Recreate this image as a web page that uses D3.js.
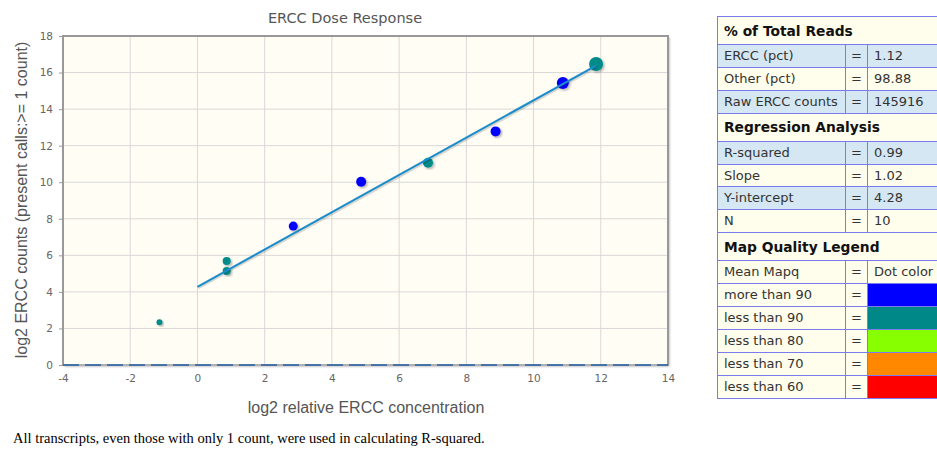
<!DOCTYPE html>
<html><head><meta charset="utf-8">
<script src="https://d3js.org/d3.v7.min.js"></script>
<style>
body{margin:0;background:#fff;width:937px;height:450px;overflow:hidden;position:relative;}
#tbl{position:absolute;left:717px;top:16px;width:300px;border-collapse:collapse;table-layout:fixed;font-family:"DejaVu Sans",sans-serif;font-size:13px;color:#333;}
#tbl td{border:1.5px solid #7b7bf0;padding:0 0 0 6px;height:21.9px;line-height:20px;white-space:nowrap;overflow:hidden;}
#tbl td.h{font-weight:bold;font-size:13.8px;color:#111;height:27px;background:#fffdeb;}
#note{position:absolute;left:13px;top:430px;font-family:"Liberation Serif",serif;font-size:14.5px;color:#000;}
</style></head><body>
<svg id="c" width="710" height="425" style="position:absolute;left:0;top:0"></svg>
<table id="tbl"></table>
<div id="note">All transcripts, even those with only 1 count, were used in calculating R-squared.</div>
<script>
const xVals = [-1.13, 0.87, 0.87, 2.85, 4.87, 6.86, 8.87, 10.87, 11.86];
const yVals = [2.34, 5.69, 5.14, 7.6, 10.03, 11.07, 12.78, 15.43, 16.47];
const dotColors = ["#008b8b","#008b8b","#008b8b","#0000ff","#0000ff","#008b8b","#0000ff","#0000ff","#008b8b"];
const dotSizes = [3, 4, 4, 4.5, 5, 5, 5, 6, 7];
const slope = 1.02, intercept = 4.28, fitX = [0, 11.86];
const xTicks = [-4,-2,0,2,4,6,8,10,12,14];
const yTicks = [0,2,4,6,8,10,12,14,16,18];

const readsRows = [["ERCC (pct)","1.12"],["Other (pct)","98.88"],["Raw ERCC counts","145916"]];
const regRows = [["R-squared","0.99"],["Slope","1.02"],["Y-intercept","4.28"],["N","10"]];
const legendLabels = ["more than 90","less than 90","less than 80","less than 70","less than 60"];
const legendColors = ["#0000ff","#008888","#88ff00","#ff8800","#ff0000"];

const L=63,R=668,T=36,B=365;
const svg=d3.select("#c");
const x=d3.scaleLinear().domain([-4,14]).range([L,R]);
const y=d3.scaleLinear().domain([0,18]).range([B,T]);
const defs=svg.append("defs");
const f=defs.append("filter").attr("id","sh").attr("x","-20%").attr("y","-20%").attr("width","140%").attr("height","140%");
f.append("feDropShadow").attr("dx",1.5).attr("dy",1.5).attr("stdDeviation",1).attr("flood-color","#000").attr("flood-opacity",0.3);

svg.append("rect").attr("x",L).attr("y",T).attr("width",R-L).attr("height",B-T).attr("fill","#fffdf4").attr("filter","url(#sh)");
svg.append("g").selectAll("line").data(xTicks).join("line")
 .attr("x1",d=>x(d)).attr("x2",d=>x(d)).attr("y1",T).attr("y2",B).attr("stroke","#d8d8d8").attr("stroke-width",1);
svg.append("g").selectAll("line").data(yTicks).join("line")
 .attr("y1",d=>y(d)).attr("y2",d=>y(d)).attr("x1",L).attr("x2",R).attr("stroke","#d8d8d8").attr("stroke-width",1);
svg.append("rect").attr("x",L).attr("y",T).attr("width",R-L).attr("height",B-T).attr("fill","none").attr("stroke","#999").attr("stroke-width",2);
svg.append("line").attr("x1",L).attr("x2",R).attr("y1",B).attr("y2",B).attr("stroke","#b0b0b0").attr("stroke-width",2);
svg.append("line").attr("x1",L).attr("x2",R).attr("y1",y(0)).attr("y2",y(0)).attr("stroke","#4572a7").attr("stroke-width",2).attr("stroke-dasharray","16,6");

const ya=svg.append("g").attr("transform",`translate(${L},0)`).call(d3.axisLeft(y).tickValues(yTicks).tickSize(4).tickPadding(6).tickFormat(d=>String(d)));
const xa=svg.append("g").attr("transform",`translate(0,${B})`).call(d3.axisBottom(x).tickValues(xTicks).tickSize(0).tickPadding(10).tickFormat(d=>String(d)));
[ya,xa].forEach(a=>{a.select(".domain").remove();a.selectAll("line").attr("stroke","#999");
 a.selectAll("text").attr("fill","#666").style("font-family","DejaVu Sans, sans-serif").style("font-size","10.5px");});

svg.append("g").selectAll("circle").data(xVals).join("circle")
 .attr("cx",d=>x(d)).attr("cy",(d,i)=>y(yVals[i])).attr("r",(d,i)=>dotSizes[i]).attr("fill",(d,i)=>dotColors[i]).attr("filter","url(#sh)");

const line=d3.line().x(d=>x(d)).y(d=>y(intercept+slope*d));
svg.append("path").datum(fitX).attr("d",line).attr("fill","none").attr("stroke","#000").attr("stroke-opacity",0.15).attr("stroke-width",3).attr("transform","translate(1,1)");
svg.append("path").datum(fitX).attr("d",line).attr("fill","none").attr("stroke","#1a8ccc").attr("stroke-width",2);

svg.append("text").attr("x",345).attr("y",23).attr("text-anchor","middle").attr("fill","#555").style("font-family","DejaVu Sans, sans-serif").style("font-size","14.5px").text("ERCC Dose Response");
svg.append("text").attr("x",366).attr("y",413).attr("text-anchor","middle").attr("fill","#555").style("font-family","Liberation Sans, Arial, sans-serif").style("font-size","16px").text("log2 relative ERCC concentration");
svg.append("text").attr("transform","translate(27,200) rotate(-90)").attr("text-anchor","middle").attr("fill","#555").style("font-family","Liberation Sans, Arial, sans-serif").style("font-size","16px").text("log2 ERCC counts (present calls:>= 1 count)");

const tbl=d3.select("#tbl");
const cg=tbl.append("colgroup");
cg.append("col").style("width","128px");cg.append("col").style("width","22px");cg.append("col").style("width","150px");
function header(t){tbl.append("tr").append("td").attr("class","h").attr("colspan",3).text(t);}
function row(a,b,bg,sw){const tr=tbl.append("tr").style("background",bg);tr.append("td").text(a);tr.append("td").text("=").style("text-align","center").style("padding","0");const c=tr.append("td");if(sw){c.style("background",sw);}else c.text(b);}
header("% of Total Reads");
readsRows.forEach((r,i)=>row(r[0],r[1],i%2===0?"#d5e7f2":"#fffdeb"));
header("Regression Analysis");
regRows.forEach((r,i)=>row(r[0],r[1],i%2===0?"#d5e7f2":"#fffdeb"));
header("Map Quality Legend");
row("Mean Mapq","Dot color","#fffdeb");
legendLabels.forEach((l,i)=>row(l,"","#fffdeb",legendColors[i]));
</script>
</body></html>
